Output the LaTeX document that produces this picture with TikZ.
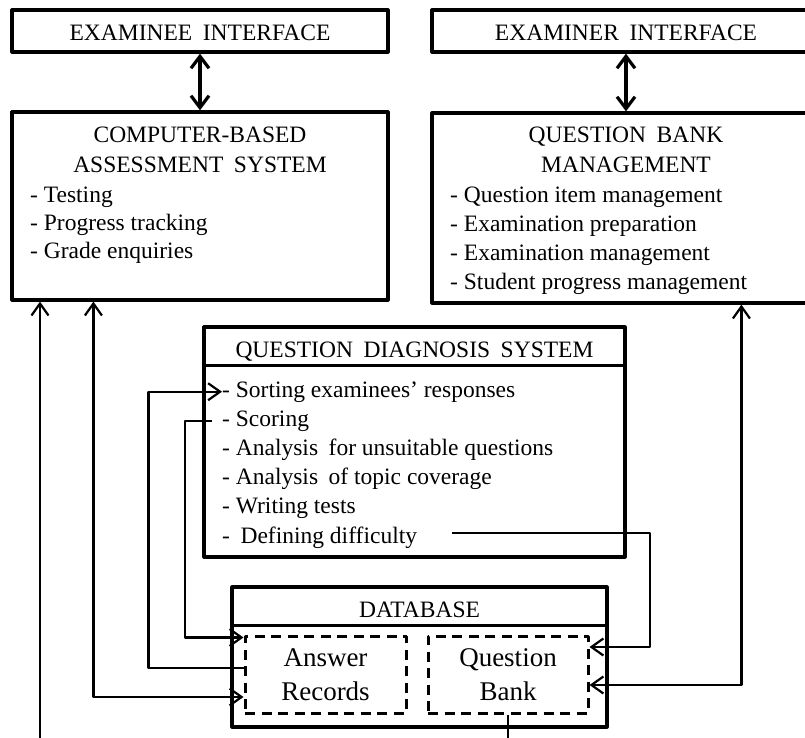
\documentclass[tikz,border=0pt]{standalone}
\usepackage{fontspec}
\setmainfont{Liberation Serif}
\usetikzlibrary{arrows.meta}
\newcommand\wsp{\hspace{0.45em}}
\tikzset{
  box/.style={draw, line width=3.2pt, inner sep=0pt},
  store/.style={draw, line width=3pt, dash pattern=on 10pt off 6.5pt, inner sep=0pt,
    align=center, font=\fontsize{27}{34}\selectfont},
  title/.style={anchor=base, inner sep=0pt},
  item/.style={anchor=base west, inner sep=0pt},
  link/.style={line width=2.2pt, >={Straight Barb[length=12pt,width=17pt]}},
  biglink/.style={line width=3.2pt, >={Straight Barb[length=12pt,width=18pt]}},
}
\begin{document}
\begin{tikzpicture}[x=1pt,y=-1pt, line join=round, font=\fontsize{23.5}{28}\selectfont]
        \useasboundingbox (0,0) rectangle (805,738);
        \clip (0,0) rectangle (805,738);
        % top row
        \node[box, minimum width=376pt, minimum height=42pt] (ei) at (200,31) {};
        \node[title] at ([yshift=-10pt]ei.center) {EXAMINEE\wsp INTERFACE};
        \node[box, minimum width=388pt, minimum height=42pt] (er) at (626,31) {};
        \node[title] at ([yshift=-10pt]er.center) {EXAMINER\wsp INTERFACE};
        % second row
        \node[box, minimum width=376pt, minimum height=188pt] (cba) at (200,206) {};
        \node[title] at (200,143) {COMPUTER-BASED};
        \node[title] at (200,172) {ASSESSMENT\wsp SYSTEM};
        \foreach \t [count=\i] in {- Testing, - Progress tracking, - Grade enquiries}
                \node[item] (cba\i) at (30,{202+28*(\i-1)}) {\t};
        \node[box, minimum width=388pt, minimum height=190pt] (qbm) at (626,208) {};
        \node[title] at (626,143) {QUESTION\wsp BANK};
        \node[title] at (626,172) {MANAGEMENT};
        \foreach \t [count=\i] in {- Question item management, - Examination preparation,
                - Examination management, - Student progress management}
                \node[item] (qbm\i) at (450,{202+29.2*(\i-1)}) {\t};
        % diagnosis
        \node[box, minimum width=421pt, minimum height=230pt] (qds) at (414.5,442) {};
        \draw[line width=3.2pt] ([yshift=-40pt]qds.north west) -- ([yshift=-40pt]qds.north east);
        \node[title] at (414.5,357) {QUESTION\wsp DIAGNOSIS\wsp SYSTEM};
        \foreach \t [count=\i] in {- Sorting examinees’ responses, - Scoring,
                - Analysis\wsp for unsuitable questions, - Analysis\wsp of topic coverage,
                - Writing tests, -\wsp Defining difficulty}
                \node[item] (qds\i) at (222,{397+29.2*(\i-1)}) {\t};
        % database
        \node[box, minimum width=375pt, minimum height=140pt] (db) at (419.5,657) {};
        \draw[line width=3.2pt] ([yshift=-40pt]db.north west) -- ([yshift=-40pt]db.north east);
        \node[title] at (419.5,617) {DATABASE};
        \node[store, minimum width=161pt, minimum height=77pt] (ar) at (325.5,674.5) {Answer\\Records};
        \node[store, minimum width=160pt, minimum height=77pt] (qb) at (508,674.5) {Question\\Bank};
        % connectors
        \draw[biglink,<->] (ei) -- (cba);
        \draw[biglink,<->] (er) -- (qbm);
        \coordinate (cutA) at (40,738);
        \coordinate (cutB) at (508,738);
        \draw[link,->] (cutA) -- (cutA |- cba.south);
        \draw[link,<->] ([yshift=-22.5pt]ar.west) -| ([xshift=83pt]cba.south west);
        \draw[link,->] ([yshift=6.5pt]ar.west) -- ++(-95,0) |- (qds1.west);
        \draw[link,->] ([xshift=-10pt]qds2.west) -- ++(-27,0) |- ([yshift=-3pt]ar.north west);
        \draw[link,->] ([xshift=35pt,yshift=4pt]qds6.east) -- ++(198,0) |- ([yshift=27.5pt]qb.east);
        \draw[link,<->] ([yshift=-10.5pt]qb.east) -| ([xshift=311pt]qbm.south west);
        \draw[link] (qb.south) -- (cutB);
\end{tikzpicture}
\end{document}
